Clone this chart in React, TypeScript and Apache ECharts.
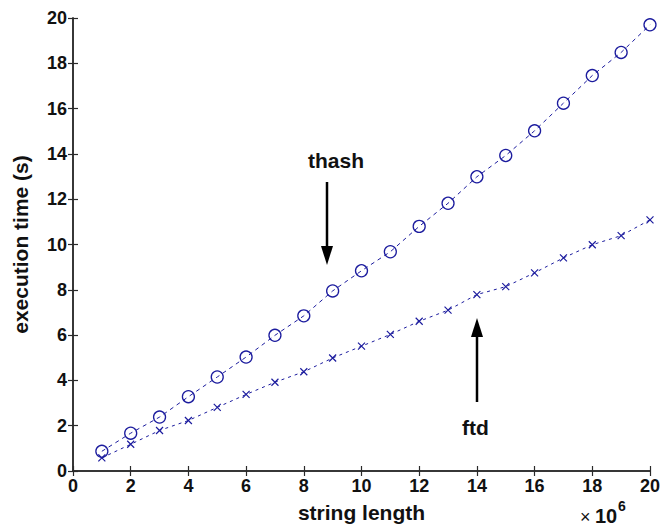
import React, { useEffect, useRef } from "react";
import * as echarts from "echarts";

const stringLength = [1, 2, 3, 4, 5, 6, 7, 8, 9, 10, 11, 12, 13, 14, 15, 16, 17, 18, 19, 20];
const thash = [0.87, 1.67, 2.38, 3.28, 4.15, 5.03, 5.99, 6.85, 7.95, 8.84, 9.68, 10.8, 11.82, 12.99, 13.93, 15.02, 16.24, 17.46, 18.48, 19.7];
const ftd = [0.58, 1.18, 1.79, 2.23, 2.81, 3.38, 3.92, 4.38, 4.99, 5.51, 6.03, 6.61, 7.1, 7.79, 8.14, 8.75, 9.41, 9.99, 10.39, 11.09];

const FONT = '"Liberation Sans", Arial, Helvetica, sans-serif';
const BLUE = "#1c1c9e";
const AXIS = "#2a2a2a";

export default function App() {
  const ref = useRef<HTMLDivElement>(null);
  useEffect(() => {
    if (!ref.current) return;
    const chart = echarts.init(ref.current, undefined, { renderer: "svg" });
    const axisLine = { show: true, lineStyle: { color: AXIS, width: 1.5 } };
    const tick = { show: true, inside: true, length: 5, lineStyle: { color: AXIS, width: 1.2 } };
    const label = { fontFamily: FONT, fontWeight: "bold" as const, fontSize: 18, color: "#111" };
    chart.setOption({
      animation: false,
      backgroundColor: "#ffffff",
      grid: { left: 73, right: 11, top: 18, bottom: 53, containLabel: false },
      xAxis: [
        {
          type: "value", min: 0, max: 20, interval: 2, position: "bottom",
          axisLine, axisTick: tick, splitLine: { show: false },
          axisLabel: { ...label, margin: 6 },
          name: "string length", nameLocation: "middle", nameGap: 31,
          nameTextStyle: { fontFamily: FONT, fontWeight: "bold", fontSize: 21, color: "#111" },
        },
        {
          type: "value", min: 0, max: 20, interval: 2, position: "top",
          axisLine, axisTick: tick, splitLine: { show: false }, axisLabel: { show: false },
        },
      ],
      yAxis: [
        {
          type: "value", min: 0, max: 20, interval: 2, position: "left",
          axisLine, axisTick: tick, splitLine: { show: false },
          axisLabel: { ...label, margin: 6 },
          name: "execution time (s)", nameLocation: "middle", nameGap: 42,
          nameTextStyle: { fontFamily: FONT, fontWeight: "bold", fontSize: 21, color: "#111" },
        },
        {
          type: "value", min: 0, max: 20, interval: 2, position: "right",
          axisLine, axisTick: tick, splitLine: { show: false }, axisLabel: { show: false },
        },
      ],
      series: [
        {
          name: "thash", type: "line",
          data: stringLength.map((x, i) => [x, thash[i]]),
          symbol: "circle", symbolSize: 12,
          itemStyle: { color: "rgba(0,0,0,0)", borderColor: BLUE, borderWidth: 1.3 },
          lineStyle: { color: BLUE, width: 1, type: [4, 4] },
        },
        {
          name: "ftd", type: "line",
          data: stringLength.map((x, i) => [x, ftd[i]]),
          symbol: "path://M0,0L10,10M10,0L0,10", symbolSize: 7,
          itemStyle: { color: "rgba(0,0,0,0)", borderColor: BLUE, borderWidth: 1.2 },
          lineStyle: { color: BLUE, width: 1, type: [3, 4] },
        },
      ],
      graphic: [
        { type: "text", left: 308, top: 150, style: { text: "thash", font: `bold 21px ${FONT}`, fill: "#111" } },
        { type: "line", shape: { x1: 327, y1: 182, x2: 327, y2: 250 }, style: { stroke: "#000", lineWidth: 2.5 } },
        { type: "polygon", shape: { points: [[321, 246], [333, 246], [327, 265]] }, style: { fill: "#000" } },
        { type: "text", left: 462, top: 417, style: { text: "ftd", font: `bold 21px ${FONT}`, fill: "#111" } },
        { type: "line", shape: { x1: 477, y1: 402, x2: 477, y2: 332 }, style: { stroke: "#000", lineWidth: 2.5 } },
        { type: "polygon", shape: { points: [[471, 337], [483, 337], [477, 318]] }, style: { fill: "#000" } },
        { type: "text", left: 580, top: 508, style: { text: "×", font: `18px ${FONT}`, fill: "#111" } },
        { type: "text", left: 595, top: 506, style: { text: "10", font: `bold 20px ${FONT}`, fill: "#111" } },
        { type: "text", left: 618, top: 499, style: { text: "6", font: `bold 14px ${FONT}`, fill: "#111" } },
      ],
    });
    return () => chart.dispose();
  }, []);
  return (
    <div
      ref={ref}
      style={{ position: "fixed", left: 0, top: 0, width: 663, height: 528, background: "#fff" }}
    />
  );
}
